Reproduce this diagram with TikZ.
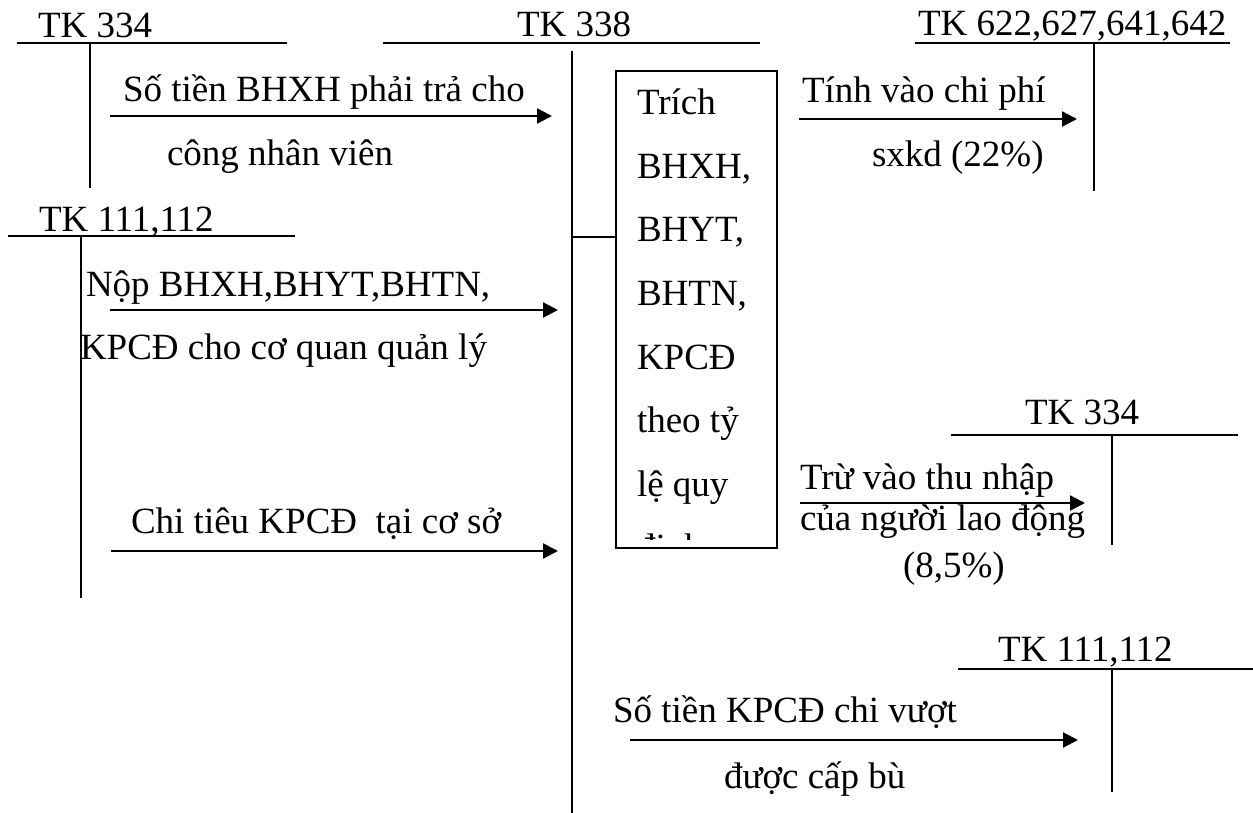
\documentclass[tikz,border=0pt]{standalone}
\usepackage{fontspec}
\setmainfont{Liberation Serif}
\usetikzlibrary{arrows.meta}

\begin{document}
\begin{tikzpicture}[x=1pt,y=-1pt,
  every node/.style={inner sep=0pt,outer sep=0pt,font=\fontsize{37}{44}\selectfont},
  lbl/.style={anchor=base west},
  tline/.style={line width=1.8pt},
  flow/.style={line width=2.2pt,-{Triangle[length=15pt,width=15pt]}},
  boxline/.style={line width=1.8pt}]

% canvas
\fill[white] (0,0) rectangle (1253,813);
\useasboundingbox (0,0) rectangle (1253,813);

% ---- T-account 334 (left) ----
\node[lbl] (t334) at (38,38) {TK 334};
\coordinate (t334l) at (17,43);
\coordinate (t334r) at (287,43);
\coordinate (t334top) at (90,43);
\coordinate (t334bot) at (90,188);
\draw[tline] (t334l) -- (t334r);
\draw[tline] (t334top) -- (t334bot);

% ---- T-account 111,112 (left) ----
\node[lbl] (t111) at (39,232) {TK 111,112};
\coordinate (t111l) at (8,236);
\coordinate (t111r) at (295,236);
\coordinate (t111top) at (81,236);
\coordinate (t111bot) at (81,598);
\draw[tline] (t111l) -- (t111r);
\draw[tline] (t111top) -- (t111bot);

% ---- T-account 338 (centre) ----
\node[lbl] (t338) at (517,37) {TK 338};
\coordinate (t338l) at (383,43);
\coordinate (t338r) at (760,43);
\coordinate (t338top) at (572,51);
\coordinate (t338bot) at (572,813);
\coordinate (t338join) at (572,237);
\draw[tline] (t338l) -- (t338r);
\draw[tline] (t338top) -- (t338bot);

% ---- T-account 622,627,641,642 ----
\node[lbl] (t622) at (918,36) {TK 622,627,641,642};
\coordinate (t622l) at (915,43);
\coordinate (t622r) at (1230,43);
\coordinate (t622top) at (1094,43);
\coordinate (t622bot) at (1094,191);
\draw[tline] (t622l) -- (t622r);
\draw[tline] (t622top) -- (t622bot);

% ---- T-account 334 (right) ----
\node[lbl] (r334) at (1025,424) {TK 334};
\coordinate (r334l) at (951,435);
\coordinate (r334r) at (1238,435);
\coordinate (r334top) at (1112,435);
\coordinate (r334bot) at (1112,545);
\draw[tline] (r334l) -- (r334r);
\draw[tline] (r334top) -- (r334bot);

% ---- T-account 111,112 (right) ----
\node[lbl] (r111) at (998,661) {TK 111,112};
\coordinate (r111l) at (958,669);
\coordinate (r111r) at (1253,669);
\coordinate (r111top) at (1112,669);
\coordinate (r111bot) at (1112,792);
\draw[tline] (r111l) -- (r111r);
\draw[tline] (r111top) -- (r111bot);

% ---- box of contributions (text cut off at the lower edge) ----
\node[draw,boxline,anchor=north west,minimum width=161pt,minimum height=477pt]
  (box) at (616,71) {};
\draw[tline] (t338join) -- (t338join -| box.west);
\begin{scope}
  \clip (620,75) rectangle (773,539);
  \foreach \w [count=\i from 0] in {Trích,BHXH{,},BHYT{,},BHTN{,},KPCĐ,theo tỷ,lệ quy,định}
    \node[lbl] (bx\i) at (637,115+63.5*\i) {\w};
\end{scope}

% ---- flows into TK 338 ----
\coordinate (a1s) at (110,116);  \coordinate (a1e) at (552,116);
\draw[flow] (a1s) -- (a1e);
\node[lbl] (a1t) at (123,102) {Số tiền BHXH phải trả cho};
\node[lbl] (a1b) at (167,166) {công nhân viên};

\coordinate (a2s) at (110,310);  \coordinate (a2e) at (558,310);
\draw[flow] (a2s) -- (a2e);
\node[lbl] (a2t) at (86,296) {Nộp BHXH,BHYT,BHTN,};
\node[lbl] (a2b) at (80,359) {KPCĐ cho cơ quan quản lý};

\coordinate (a3s) at (111,551);  \coordinate (a3e) at (558,551);
\draw[flow] (a3s) -- (a3e);
\node[lbl] (a3t) at (131,533) {Chi tiêu KPCĐ~ tại cơ sở};

% ---- flows out of TK 338 ----
\coordinate (b1s) at (799,119);  \coordinate (b1e) at (1077,119);
\draw[flow] (b1s) -- (b1e);
\node[lbl] (b1t) at (802,103) {Tính vào chi phí};
\node[lbl] (b1b) at (872,167) {sxkd (22\%)};

\coordinate (b2s) at (800,503);  \coordinate (b2e) at (1085,503);
\draw[flow] (b2s) -- (b2e);
\node[lbl] (b2t) at (800,489) {Trừ vào thu nhập};
\node[lbl] (b2m) at (800,530) {của người lao động};
\node[lbl] (b2b) at (903,577) {(8,5\%)};

\coordinate (b3s) at (630,740);  \coordinate (b3e) at (1078,740);
\draw[flow] (b3s) -- (b3e);
\node[lbl] (b3t) at (613,722) {Số tiền KPCĐ chi vượt};
\node[lbl] (b3b) at (724,788) {được cấp bù};

\end{tikzpicture}
\end{document}
